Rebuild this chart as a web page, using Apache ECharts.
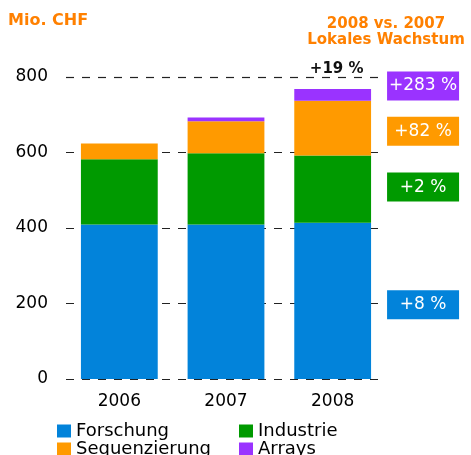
<!DOCTYPE html>
<html>
<head>
<meta charset="utf-8">
<script src="https://cdn.jsdelivr.net/npm/echarts@6/dist/echarts.min.js"></script>
<style>
html, body { margin: 0; padding: 0; background: #fff; }
#chart { width: 471px; height: 455px; }
</style>
</head>
<body>
<div id="chart"></div>
<script>
// Mio. CHF
var years = ['2006', '2007', '2008']
var forschung = [409, 409, 414]
var industrie = [173, 189, 178]
var sequenzierung = [42, 85, 145]
var arrays = [0, 10, 31]
var yTicks = [0, 200, 400, 600, 800]
// lokales Wachstum 2008 vs. 2007
var growth = ['+8 %', '+2 %', '+82 %', '+283 %']
var totalGrowth = '+19 %'

var FONT = '"DejaVu Sans", sans-serif'
var colors = ['#0283DA', '#009A00', '#FF9A00', '#9A33FF']

function makeSeries (name, values, color, growthText, dy) {
  return {
    name: name,
    type: 'bar',
    stack: 'total',
    barCategoryGap: '28%',
    itemStyle: { color: color },
    emphasis: { disabled: true },
    data: values.map(function (v, i) {
      if (i !== values.length - 1) return v
      return {
        value: v,
        label: {
          show: true,
          position: 'right',
          distance: 16,
          align: 'center',
          offset: [36, dy],
          width: 72,
          height: 29,
          lineHeight: 29,
          backgroundColor: color,
          color: '#fff',
          fontSize: 17,
          fontFamily: FONT,
          formatter: growthText
        }
      }
    })
  }
}

function makeLegend (left, names) {
  return {
    orient: 'vertical',
    left: left,
    top: 422,
    height: 60,
    padding: 0,
    itemGap: 0,
    itemWidth: 14,
    itemHeight: 13,
    icon: 'rect',
    selectedMode: false,
    data: names,
    textStyle: { fontSize: 18, lineHeight: 17, color: '#000', fontFamily: FONT }
  }
}

var chart = echarts.init(document.getElementById('chart'))
chart.setOption({
  animation: false,
  title: [{
    text: 'Mio. CHF',
    left: 8,
    top: 12,
    padding: 0,
    textStyle: { color: '#FF8000', fontSize: 16, fontWeight: 'bold', fontFamily: FONT, lineHeight: 18 }
  }, {
    text: '2008 vs. 2007\nLokales Wachstum',
    left: 386,
    top: 16,
    padding: 0,
    textAlign: 'center',
    textStyle: { color: '#FF8000', fontSize: 15, fontWeight: 'bold', fontFamily: FONT, lineHeight: 16 }
  }],
  legend: [
    makeLegend(57, ['Forschung', 'Sequenzierung']),
    makeLegend(239, ['Industrie', 'Arrays'])
  ],
  grid: {
    left: 66,
    right: 85,
    top: 77,
    bottom: 76
  },
  xAxis: {
    type: 'category',
    data: years,
    axisLine: { show: false },
    axisTick: { show: false },
    axisLabel: { color: '#000', fontSize: 17, fontFamily: FONT, margin: 14 }
  },
  yAxis: {
    type: 'value',
    min: yTicks[0],
    max: yTicks[yTicks.length - 1],
    interval: yTicks[1] - yTicks[0],
    axisLine: { show: false },
    axisTick: { show: false },
    axisLabel: { color: '#000', fontSize: 17, fontFamily: FONT, margin: 18 },
    splitLine: {
      show: true,
      lineStyle: { color: '#222', width: 1.2, type: [8, 8] }
    }
  },
  series: [
    makeSeries('Forschung', forschung, colors[0], growth[0], 4),
    makeSeries('Industrie', industrie, colors[1], growth[1], -2),
    makeSeries('Sequenzierung', sequenzierung, colors[2], growth[2], 3),
    makeSeries('Arrays', arrays, colors[3], growth[3], -9)
  ]
})

var last = years.length - 1
var total = forschung[last] + industrie[last] + sequenzierung[last] + arrays[last]
var p = chart.convertToPixel({ gridIndex: 0 }, [years[last], total])
chart.setOption({
  graphic: [{
    type: 'text',
    x: p[0] + 4,
    y: p[1] - 20,
    z: 10,
    style: {
      text: totalGrowth,
      font: 'bold 15px "DejaVu Sans", sans-serif',
      fill: '#111',
      align: 'center',
      verticalAlign: 'middle'
    }
  }]
})
</script>
</body>
</html>
